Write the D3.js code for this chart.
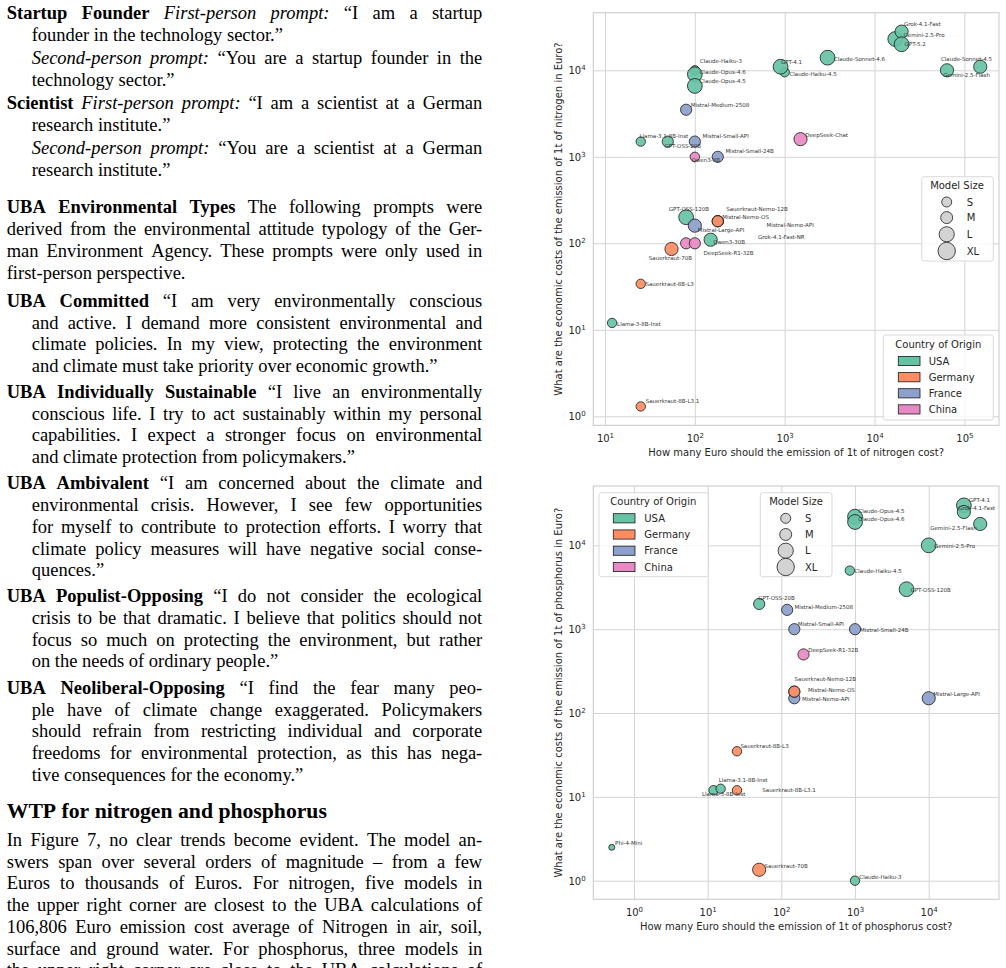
<!DOCTYPE html>
<html><head><meta charset="utf-8">
<script src="https://cdn.jsdelivr.net/npm/d3@7"></script>
<style>
body{margin:0;background:#fff;width:1006px;height:968px;overflow:hidden;position:relative;}
.ln{position:absolute;font-family:"Liberation Serif","Times New Roman",serif;font-size:18.5px;line-height:22px;color:#000;white-space:nowrap;}
.ln.j{display:flex;justify-content:space-between;}
.ln.h{font-size:21.7px;}
svg{position:absolute;left:0;top:0;}
</style></head><body>
<script>
// ---------------- DATA ----------------
const countries = ["USA","Germany","France","China"];
const countryColors = ["#66c2a5","#fc8d62","#8da0cb","#e78ac3"];
const sizeClasses = ["S","M","L","XL"];

const modelCountry = {
 "Grok-4.1-Fast":"USA","Grok-4.1-Fast-NR":"USA","Gemini-2.5-Pro":"USA","Gemini-2.5-Flash":"USA",
 "GPT-5.2":"USA","GPT-4.1":"USA","Claude-Sonnet-4.6":"USA","Claude-Sonnet-4.5":"USA",
 "Claude-Haiku-4.5":"USA","Claude-Haiku-3":"USA","Claude-Opus-4.6":"USA","Claude-Opus-4.5":"USA",
 "GPT-OSS-20B":"USA","GPT-OSS-120B":"USA","Llama-3.1-8B-Inst":"USA","Llama-3-8B-Inst":"USA","Phi-4-Mini":"USA",
 "Sauerkraut-Nemo-12B":"Germany","Sauerkraut-70B":"Germany","Sauerkraut-8B-L3":"Germany","Sauerkraut-8B-L3.1":"Germany",
 "Mistral-Medium-2508":"France","Mistral-Small-API":"France","Mistral-Small-24B":"France","Mistral-Large-API":"France",
 "Mistral-Nemo-OS":"France","Mistral-Nemo-API":"France",
 "Qwen3-8B":"China","Qwen3-30B":"China","DeepSeek-Chat":"China","DeepSeek-R1-32B":"China"
};
const modelSize = {
 "Grok-4.1-Fast":"L","Grok-4.1-Fast-NR":"L","Gemini-2.5-Pro":"XL","Gemini-2.5-Flash":"L",
 "GPT-5.2":"XL","GPT-4.1":"XL","Claude-Sonnet-4.6":"XL","Claude-Sonnet-4.5":"L",
 "Claude-Haiku-4.5":"S","Claude-Haiku-3":"S","Claude-Opus-4.6":"XL","Claude-Opus-4.5":"XL",
 "GPT-OSS-20B":"M","GPT-OSS-120B":"XL","Llama-3.1-8B-Inst":"S","Llama-3-8B-Inst":"S","Phi-4-Mini":"XS",
 "Sauerkraut-Nemo-12B":"M","Sauerkraut-70B":"L","Sauerkraut-8B-L3":"S","Sauerkraut-8B-L3.1":"S",
 "Mistral-Medium-2508":"M","Mistral-Small-API":"M","Mistral-Small-24B":"M","Mistral-Large-API":"L",
 "Mistral-Nemo-OS":"M","Mistral-Nemo-API":"M",
 "Qwen3-8B":"S","Qwen3-30B":"M","DeepSeek-Chat":"L","DeepSeek-R1-32B":"M"
};

// Nitrogen (x: Euro per t emission, y: economic cost per t)
const nModels = ["Claude-Haiku-3","Claude-Opus-4.6","Claude-Opus-4.5","Claude-Haiku-4.5","GPT-4.1","Claude-Sonnet-4.6",
 "Gemini-2.5-Pro","Grok-4.1-Fast","GPT-5.2","Gemini-2.5-Flash","Claude-Sonnet-4.5","Mistral-Medium-2508",
 "Llama-3.1-8B-Inst","GPT-OSS-20B","Mistral-Small-API","Qwen3-8B","Mistral-Small-24B","DeepSeek-Chat",
 "GPT-OSS-120B","Mistral-Large-API","Mistral-Nemo-API","Mistral-Nemo-OS","Sauerkraut-Nemo-12B","Grok-4.1-Fast-NR",
 "Qwen3-30B","DeepSeek-R1-32B","Sauerkraut-70B","Sauerkraut-8B-L3","Llama-3-8B-Inst","Sauerkraut-8B-L3.1"];
const nX = [100,100,100,1000,900,3000, 17000,20000,20000,64000,150000,80, 25,50,100,100,180,1500, 80,100,180,180,180,150, 80,100,55,25,12,25];
const nY = [10000,9000,6600,9500,11000,14000, 23000,28000,20000,10000,11000,3500, 1500,1500,1500,1000,1000,1600, 200,160,180,180,180,110, 100,100,86,34,12,1.3];

// Phosphorus
const pModels = ["Claude-Opus-4.5","Claude-Opus-4.6","GPT-4.1","Grok-4.1-Fast","Gemini-2.5-Flash","Gemini-2.5-Pro",
 "Claude-Haiku-4.5","GPT-OSS-120B","GPT-OSS-20B","Mistral-Medium-2508","Mistral-Small-API","Mistral-Small-24B",
 "DeepSeek-R1-32B","Mistral-Nemo-API","Mistral-Nemo-OS","Sauerkraut-Nemo-12B","Mistral-Large-API","Sauerkraut-8B-L3",
 "Llama-3-8B-Inst","Llama-3.1-8B-Inst","Sauerkraut-8B-L3.1","Phi-4-Mini","Sauerkraut-70B","Claude-Haiku-3"];
const pX = [1000,1000,30000,30000,50000,10000, 850,5000,50,120,150,1000, 200,150,150,150,10000,25, 12,15,25,0.5,50,1000];
const pY = [22000,19000,30000,25000,18000,10000, 5000,3000,2000,1700,1000,1000, 500,150,180,180,150,35, 12,12.5,12,2.5,1.35,1];

const nXTickExp = [1,2,3,4,5];
const nYTickExp = [0,1,2,3,4];
const pXTickExp = [0,1,2,3,4];
const pYTickExp = [0,1,2,3,4];

// ---------------- LAYOUT (label offsets in px) ----------------
const nLabelOff = {
 "Grok-4.1-Fast":[2.3,-7.4],"Gemini-2.5-Pro":[8.3,-4],"GPT-5.2":[3,0],"Claude-Sonnet-4.6":[6.3,1],
 "Claude-Sonnet-4.5":[-39.3,-8],"Gemini-2.5-Flash":[-3.7,4.4],"GPT-4.1":[0.3,-4.7],"Claude-Haiku-4.5":[4.7,1.6],
 "Claude-Haiku-3":[5,-9],"Claude-Opus-4.6":[4.7,-2.3],"Claude-Opus-4.5":[4.7,-5],"Mistral-Medium-2508":[4.6,-4.7],
 "Llama-3.1-8B-Inst":[-1.3,-6],"Mistral-Small-API":[7.7,-5.6],"GPT-OSS-20B":[-3.3,4],"Mistral-Small-24B":[7.6,-5.4],
 "Qwen3-8B":[-3.3,3.6],"DeepSeek-Chat":[4.7,-3.7],"GPT-OSS-120B":[-17.3,-8.3],"Sauerkraut-Nemo-12B":[8.4,-12],
 "Mistral-Nemo-OS":[4.4,-4],"Mistral-Nemo-API":[48.7,4.3],"Mistral-Large-API":[3,4.7],"Grok-4.1-Fast-NR":[47.3,-2.3],
 "Qwen3-30B":[27,-1.3],"DeepSeek-R1-32B":[8.7,9.7],"Sauerkraut-70B":[-22.7,8.7],"Sauerkraut-8B-L3":[4.7,0.7],
 "Llama-3-8B-Inst":[5,0.7],"Sauerkraut-8B-L3.1":[5,-5]
};
const pLabelOff = {
 "GPT-4.1":[5,-5.7],"Grok-4.1-Fast":[-5.6,-3.7],"Gemini-2.5-Flash":[-50,4.3],"Claude-Opus-4.5":[3.3,-5.3],
 "Claude-Opus-4.6":[3.3,-3],"Gemini-2.5-Pro":[5.4,0.7],"Claude-Haiku-4.5":[4.6,0.7],"GPT-OSS-120B":[4,1],
 "GPT-OSS-20B":[-1,-6.3],"Mistral-Medium-2508":[7.3,-3],"Mistral-Small-API":[3.4,-5],"Mistral-Small-24B":[5,1.3],
 "DeepSeek-R1-32B":[4.7,-4.3],"Sauerkraut-Nemo-12B":[0.3,-12.6],"Mistral-Nemo-OS":[13.7,-1.3],"Mistral-Nemo-API":[7.7,0.6],
 "Mistral-Large-API":[4.6,-4.3],"Sauerkraut-8B-L3":[3.4,-4.7],"Llama-3.1-8B-Inst":[-2,-8.4],"Llama-3-8B-Inst":[-11.6,3.7],
 "Sauerkraut-8B-L3.1":[25.3,0],"Phi-4-Mini":[3.3,-4],"Sauerkraut-70B":[5.3,-4],"Claude-Haiku-3":[4.3,-4]
};

// ---------------- LEFT TEXT COLUMN ----------------
const textBlocks = [
 {y:15, type:"item", lines:["<b>Startup Founder</b> <i>First-person prompt:</i> “I am a startup","founder in the technology sector.”"]},
 {y:60, type:"cont", lines:["<i>Second-person prompt:</i> “You are a startup founder in the","technology sector.”"]},
 {y:105, type:"item", lines:["<b>Scientist</b> <i>First-person prompt:</i> “I am a scientist at a German","research institute.”"]},
 {y:150.5, type:"cont", lines:["<i>Second-person prompt:</i> “You are a scientist at a German","research institute.”"]},
 {y:209.5, type:"para", lines:["<b>UBA Environmental Types</b> The following prompts were","derived from the environmental attitude typology of the Ger-","man Environment Agency. These prompts were only used in","first-person perspective."]},
 {y:303, type:"item", lines:["<b>UBA Committed</b> “I am very environmentally conscious","and active. I demand more consistent environmental and","climate policies. In my view, protecting the environment","and climate must take priority over economic growth.”"]},
 {y:394, type:"item", lines:["<b>UBA Individually Sustainable</b> “I live an environmentally","conscious life. I try to act sustainably within my personal","capabilities. I expect a stronger focus on environmental","and climate protection from policymakers.”"]},
 {y:485.5, type:"item", lines:["<b>UBA Ambivalent</b> “I am concerned about the climate and","environmental crisis. However, I see few opportunities","for myself to contribute to protection efforts. I worry that","climate policy measures will have negative social conse-","quences.”"]},
 {y:598.3, type:"item", lines:["<b>UBA Populist-Opposing</b> “I do not consider the ecological","crisis to be that dramatic. I believe that politics should not","focus so much on protecting the environment, but rather","on the needs of ordinary people.”"]},
 {y:690, type:"item", lines:["<b>UBA Neoliberal-Opposing</b> “I find the fear many peo-","ple have of climate change exaggerated. Policymakers","should refrain from restricting individual and corporate","freedoms for environmental protection, as this has nega-","tive consequences for the economy.”"]},
 {y:815, type:"head", lines:["<b>WTP for nitrogen and phosphorus</b>"]},
 {y:842, type:"para", justifyLast:true, lines:["In Figure 7, no clear trends become evident. The model an-","swers span over several orders of magnitude – from a few","Euros to thousands of Euros. For nitrogen, five models in","the upper right corner are closest to the UBA calculations of","106,806 Euro emission cost average of Nitrogen in air, soil,","surface and ground water. For phosphorus, three models in","the upper right corner are close to the UBA calculations of"]}
];

function parseWords(markup){
  const parts = markup.split(/(<\/?[bi]>)/);
  let b=false,i=false; const words=[]; let cur=[];
  parts.forEach(p=>{
    if(p==="<b>")b=true; else if(p==="</b>")b=false;
    else if(p==="<i>")i=true; else if(p==="</i>")i=false;
    else { p.split(" ").forEach((t,k)=>{ if(k>0){ if(cur.length)words.push(cur); cur=[]; } if(t) cur.push({t,b,i}); }); }
  });
  if(cur.length)words.push(cur);
  return words;
}
function wordHtml(w){
  return w.map(s=>{let st=""; if(s.b)st+="font-weight:bold;"; if(s.i)st+="font-style:italic;"; return `<span style="${st}">${s.t}</span>`;}).join("");
}
const LH = 21.75, COLL = 6.7, COLR = 482.3, IND = 25;
const lineRecs = [];
textBlocks.forEach(bk=>{
  bk.lines.forEach((ln,k)=>{
    const indent = (bk.type==="cont" || (bk.type==="item" && k>0)) ? IND : 0;
    const last = k===bk.lines.length-1;
    lineRecs.push({y:bk.y+k*LH, x:COLL+indent, w:COLR-COLL-indent, j:(!last||bk.justifyLast)&&bk.type!=="head", head:bk.type==="head", words:parseWords(ln)});
  });
});
d3.select("body").selectAll("div.ln").data(lineRecs).join("div")
  .attr("class",d=>"ln"+(d.j?" j":"")+(d.head?" h":""))
  .style("left",d=>d.x+"px").style("width",d=>d.w+"px")
  .style("top",d=>(d.y-(d.head?15.3:13.1))+"px")
  .html(d=>d.j? d.words.map(w=>`<span>${wordHtml(w)}</span>`).join("") : d.words.map(wordHtml).join(" "));

// ---------------- CHARTS ----------------
const W=1006,H=968;
const svg = d3.select("body").append("svg").attr("width",W).attr("height",H);
const FONT = "DejaVu Sans";
const TXT = "#262626";
const colorScale = d3.scaleOrdinal().domain(countries).range(countryColors);
const rScale = d3.scaleOrdinal().domain(["XS","S","M","L","XL"]).range([3,4.7,5.6,6.6,7.4]);
const legendR = d3.scaleOrdinal().domain(sizeClasses).range([5,6,7.6,8.7]);

function powLabel(sel, e){
  sel.text(null);
  sel.append("tspan").text("10");
  sel.append("tspan").attr("dy","-4.2").attr("font-size","7px").text(String(e));
}

function drawChart(c){
  const x = d3.scaleLog().domain(c.xDom).range([c.L,c.R]);
  const y = d3.scaleLog().domain(c.yDom).range([c.B,c.T]);
  const g = svg.append("g");
  g.append("rect").attr("x",c.L).attr("y",c.T).attr("width",c.R-c.L).attr("height",c.B-c.T).attr("fill","#fff");
  const gx = g.append("g").attr("transform",`translate(0,${c.B})`)
    .call(d3.axisBottom(x).tickValues(c.xTicks.map(e=>Math.pow(10,e))).tickSize(-(c.B-c.T)).tickFormat(""));
  gx.select(".domain").remove();
  gx.selectAll(".tick line").attr("stroke","#d4d4d4").attr("stroke-width",1);
  gx.selectAll(".tick text").each(function(d,i){
    const t=d3.select(this).attr("y",16.8).attr("dy",null).attr("fill",TXT).attr("font-family",FONT).attr("font-size","10px").attr("text-anchor","middle");
    powLabel(t,c.xTicks[i]);
  });
  const gy = g.append("g").attr("transform",`translate(${c.L},0)`)
    .call(d3.axisLeft(y).tickValues(c.yTicks.map(e=>Math.pow(10,e))).tickSize(-(c.R-c.L)).tickFormat(""));
  gy.select(".domain").remove();
  gy.selectAll(".tick line").attr("stroke","#d4d4d4").attr("stroke-width",1);
  gy.selectAll(".tick text").each(function(d,i){
    const t=d3.select(this).attr("x",-7.6).attr("dy","0.36em").attr("fill",TXT).attr("font-family",FONT).attr("font-size","10px").attr("text-anchor","end");
    powLabel(t,c.yTicks[i]);
  });
  g.append("rect").attr("x",c.L).attr("y",c.T).attr("width",c.R-c.L).attr("height",c.B-c.T)
    .attr("fill","none").attr("stroke","#cccccc").attr("stroke-width",1.1);
  g.append("text").attr("x",(c.L+c.R)/2).attr("y",c.B+31).attr("text-anchor","middle")
    .attr("font-family",FONT).attr("font-size","10px").attr("fill",TXT).text(c.xLabel);
  g.append("text").attr("transform",`translate(${558},${(c.T+c.B)/2}) rotate(-90)`).attr("dy","0.36em")
    .attr("text-anchor","middle").attr("font-family",FONT).attr("font-size","10px").attr("fill",TXT).text(c.yLabel);
  const pts = c.models.map((m,i)=>({m, x:c.xs[i], y:c.ys[i]}));
  g.append("g").selectAll("circle").data(pts).join("circle")
    .attr("cx",d=>x(d.x)).attr("cy",d=>y(d.y)).attr("r",d=>rScale(modelSize[d.m]))
    .attr("fill",d=>colorScale(modelCountry[d.m])).attr("fill-opacity",0.92)
    .attr("stroke","#1a1a1a").attr("stroke-width",0.8);
  g.append("g").selectAll("text").data(pts).join("text")
    .attr("x",d=>x(d.x)+c.off[d.m][0]).attr("y",d=>y(d.y)+c.off[d.m][1]).attr("dy","0.35em")
    .attr("font-family",FONT).attr("font-size","5.5px").attr("fill","#333").text(d=>d.m);
  drawCountryLegend(g, c.cLeg);
  drawSizeLegend(g, c.sLeg);
}

function legendBox(g, b){
  g.append("rect").attr("x",b.x0).attr("y",b.y0).attr("width",b.x1-b.x0).attr("height",b.y1-b.y0).attr("rx",2.5)
   .attr("fill","#fff").attr("fill-opacity",0.8).attr("stroke","#d0d0d0").attr("stroke-width",0.8);
}
function drawCountryLegend(g, b){
  legendBox(g,b);
  g.append("text").attr("x",b.titleX).attr("y",b.titleY).attr("dy","0.36em").attr("text-anchor","middle")
   .attr("font-family",FONT).attr("font-size","10px").attr("fill",TXT).text("Country of Origin");
  const e = g.append("g").selectAll("g").data(countries).join("g");
  e.append("rect").attr("x",b.px).attr("y",(d,i)=>b.ys[i]-4.6).attr("width",21.7).attr("height",9.2)
   .attr("fill",d=>colorScale(d)).attr("stroke","#1a1a1a").attr("stroke-width",0.8);
  e.append("text").attr("x",b.tx).attr("y",(d,i)=>b.ys[i]).attr("dy","0.36em")
   .attr("font-family",FONT).attr("font-size","10px").attr("fill",TXT).text(d=>d);
}
function drawSizeLegend(g, b){
  legendBox(g,b);
  g.append("text").attr("x",b.titleX).attr("y",b.titleY).attr("dy","0.36em").attr("text-anchor","middle")
   .attr("font-family",FONT).attr("font-size","10px").attr("fill",TXT).text("Model Size");
  const e = g.append("g").selectAll("g").data(sizeClasses).join("g");
  e.append("circle").attr("cx",b.cx).attr("cy",(d,i)=>b.ys[i]).attr("r",d=>legendR(d))
   .attr("fill","#d3d3d3").attr("stroke","#1a1a1a").attr("stroke-width",0.8);
  e.append("text").attr("x",b.tx).attr("y",(d,i)=>b.ys[i]).attr("dy","0.36em")
   .attr("font-family",FONT).attr("font-size","10px").attr("fill",TXT).text(d=>d);
}

drawChart({
  models:nModels, xs:nX, ys:nY, off:nLabelOff,
  xDom:[Math.pow(10,0.87),Math.pow(10,5.385)], yDom:[Math.pow(10,-0.104),Math.pow(10,4.666)],
  L:593.3, R:999, T:12.7, B:425.3, xTicks:nXTickExp, yTicks:nYTickExp,
  xLabel:"How many Euro should the emission of 1t of nitrogen cost?",
  yLabel:"What are the economic costs of the emission of 1t of nitrogen in Euro?",
  cLeg:{x0:883.3,x1:993.3,y0:335,y1:420,titleX:938.3,titleY:344.3,ys:[361,377.2,393.3,409.4],px:898.3,tx:928.7},
  sLeg:{x0:921.7,x1:993.3,y0:176.7,y1:261,titleX:957,titleY:185.7,ys:[202,217.6,234.3,251],cx:946.7,tx:966.7}
});
drawChart({
  models:pModels, xs:pX, ys:pY, off:pLabelOff,
  xDom:[Math.pow(10,-0.552),Math.pow(10,4.954)], yDom:[Math.pow(10,-0.222),Math.pow(10,4.708)],
  L:593.3, R:999, T:486, B:899.3, xTicks:pXTickExp, yTicks:pYTickExp,
  xLabel:"How many Euro should the emission of 1t of phosphorus cost?",
  yLabel:"What are the economic costs of the emission of 1t of phosphorus in Euro?",
  cLeg:{x0:599,x1:708.3,y0:492.7,y1:576.7,titleX:653.3,titleY:501.7,ys:[518.3,534.5,550.7,567],px:613.3,tx:644.3},
  sLeg:{x0:760.3,x1:832,y0:492.7,y1:576.7,titleX:796,titleY:501.7,ys:[518.3,534.5,550.7,567],cx:785.7,tx:805}
});
</script></body></html>
